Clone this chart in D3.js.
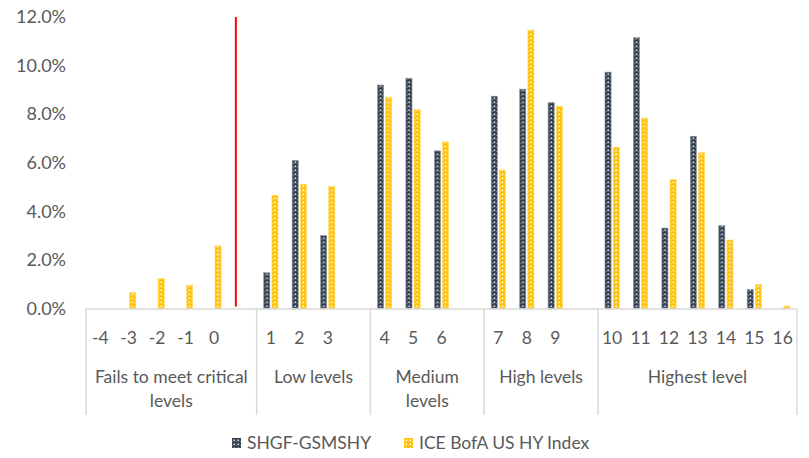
<!DOCTYPE html>
<html>
<head>
<meta charset="utf-8">
<script src="https://cdn.jsdelivr.net/npm/d3@7"></script>
<style>
    body { margin: 0; background: #fff; }
    text { font-family: Lato, "Open Sans", sans-serif; fill: #595959; }
</style>
</head>
<body>
<div id="chart"></div>
<script>
// score levels per group (a blank slot follows the first four groups)
var groupNames = [["Fails to meet critical", "levels"], ["Low levels"], ["Medium", "levels"], ["High levels"], ["Highest level"]];
var groupLevels = [["-4", "-3", "-2", "-1", "0"], ["1", "2", "3"], ["4", "5", "6"], ["7", "8", "9"], ["10", "11", "12", "13", "14", "15", "16"]];
var groupBlank = [true, true, true, true, false];

var seriesNames = ["SHGF-GSMSHY", "ICE BofA US HY Index"];
var shgf = [0, 0, 0, 0, 0, 1.47, 6.09, 3.0, 9.2, 9.48, 6.49, 8.74, 9.03, 8.48, 9.73, 11.15, 3.31, 7.09, 3.41, 0.78, 0];
var ice = [0, 0.65, 1.24, 0.96, 2.58, 4.66, 5.11, 5.03, 8.7, 8.19, 6.86, 5.7, 11.46, 8.33, 6.64, 7.84, 5.31, 6.41, 2.82, 0.98, 0.1];
var yTicks = [0, 2, 4, 6, 8, 10, 12];
var thresholdValue = 12;

(function () {
    var width = 809, height = 458;
    var left = 86, right = 797, top = 17, bottom = 308.5;

    // build slot list
    var slots = [], levelData = [], groupSpans = [], k = 0;
    groupLevels.forEach(function (lv, gi) {
        var start = slots.length;
        lv.forEach(function (l) {
            slots.push("L" + l);
            levelData.push({level: l, slot: "L" + l, values: [shgf[k], ice[k]]});
            k++;
        });
        if (groupBlank[gi]) slots.push("B" + gi);
        groupSpans.push({name: groupNames[gi], first: slots[start], last: slots[slots.length - 1]});
    });

    var svg = d3.select("#chart").append("svg")
        .attr("width", width)
        .attr("height", height);

    var defs = svg.append("defs");
    function pattern(id, color, dot) {
        var p = defs.append("pattern")
            .attr("id", id)
            .attr("width", 4).attr("height", 4)
            .attr("patternUnits", "userSpaceOnUse");
        p.append("rect").attr("width", 4).attr("height", 4).attr("fill", color);
        p.append("rect").attr("x", 1.5).attr("y", 1.5).attr("width", 1.6).attr("height", 1.6).attr("fill", dot);
        p.append("rect").attr("x", 0).attr("y", 3.3).attr("width", 0.9).attr("height", 0.7).attr("fill", dot).attr("opacity", 0.7);
    }
    pattern("patDark", "#333f50", "#dfe2e6");
    pattern("patGold", "#ffc000", "#ffffff");
    var fills = ["url(#patDark)", "url(#patGold)"];
    var strokes = ["#8a929c", "#ffd966"];

    var x = d3.scaleBand().domain(slots).range([left, right]).padding(0);
    var x1 = d3.scaleBand().domain([0, 1]).range([0, x.bandwidth()])
        .paddingInner(0.25).paddingOuter(0.86);
    var y = d3.scaleLinear().domain([0, 12]).range([bottom, top]);

    // y axis labels
    svg.append("g")
        .attr("transform", "translate(" + left + ",0)")
        .call(d3.axisLeft(y).tickValues(yTicks).tickSize(0).tickPadding(20)
            .tickFormat(function (d) { return d3.format(".1f")(d) + "%"; }))
        .call(function (g) { g.select(".domain").remove(); })
        .selectAll("text")
        .style("font-size", "18px")
        .attr("fill", "#595959");

    // bars
    var lv = svg.selectAll(".lv")
        .data(levelData)
        .enter().append("g")
        .attr("class", "lv")
        .attr("transform", function (d) { return "translate(" + x(d.slot) + ",0)"; });

    lv.selectAll("rect")
        .data(function (d) { return d.values.map(function (v, i) { return {i: i, v: v}; }); })
        .enter().filter(function (d) { return d.v > 0; }).append("rect")
        .attr("x", function (d) { return x1(d.i); })
        .attr("width", x1.bandwidth())
        .attr("y", function (d) { return y(d.v); })
        .attr("height", function (d) { return y(0) - y(d.v); })
        .attr("fill", function (d) { return fills[d.i]; })
        .attr("stroke", function (d) { return strokes[d.i]; })
        .attr("stroke-width", 0.6);

    // category axis
    svg.append("line")
        .attr("x1", left).attr("x2", right)
        .attr("y1", bottom + 0.5).attr("y2", bottom + 0.5)
        .attr("stroke", "#d9d9d9").attr("stroke-width", 1.5);

    var dividers = groupSpans.map(function (g) { return x(g.first); }).concat([right]);
    svg.selectAll(".divider")
        .data(dividers)
        .enter().append("line")
        .attr("class", "divider")
        .attr("x1", function (d) { return d; }).attr("x2", function (d) { return d; })
        .attr("y1", bottom).attr("y2", 415)
        .attr("stroke", "#d9d9d9").attr("stroke-width", 1.5);

    svg.selectAll(".tick-label")
        .data(levelData)
        .enter().append("text")
        .attr("class", "tick-label")
        .attr("x", function (d) { return x(d.slot) + x.bandwidth() / 2; })
        .attr("y", 344)
        .attr("text-anchor", "middle")
        .style("font-size", "17.5px")
        .text(function (d) { return d.level; });

    var gl = svg.selectAll(".group-label")
        .data(groupSpans)
        .enter().append("text")
        .attr("class", "group-label")
        .attr("x", function (d) { return (x(d.first) + x(d.last) + x.bandwidth()) / 2; })
        .attr("y", 383)
        .attr("text-anchor", "middle")
        .style("font-size", "17.5px");
    gl.selectAll("tspan")
        .data(function (d) { return d.name.map(function (t) { return {t: t, p: d}; }); })
        .enter().append("tspan")
        .attr("x", function (d) { return (x(d.p.first) + x(d.p.last) + x.bandwidth()) / 2; })
        .attr("dy", function (d, i) { return i ? 24 : 0; })
        .text(function (d) { return d.t; });

    // threshold line between failing and passing levels
    var tx = x("B0") + x.bandwidth() * 0.27;
    svg.append("line")
        .attr("x1", tx).attr("x2", tx)
        .attr("y1", y(thresholdValue)).attr("y2", y(0) - 2)
        .attr("stroke", "#ff0000").attr("stroke-width", 2);

    // legend
    var legendX = [232, 404];
    var legend = svg.selectAll(".legend")
        .data(seriesNames)
        .enter().append("g")
        .attr("class", "legend")
        .attr("transform", function (d, i) { return "translate(" + legendX[i] + ",438)"; });
    legend.append("rect")
        .attr("width", 9).attr("height", 10)
        .attr("fill", function (d, i) { return fills[i]; });
    legend.append("text")
        .attr("x", 15).attr("y", 11)
        .style("font-size", "17.5px")
        .text(function (d) { return d; });
})();
</script>
</body>
</html>
